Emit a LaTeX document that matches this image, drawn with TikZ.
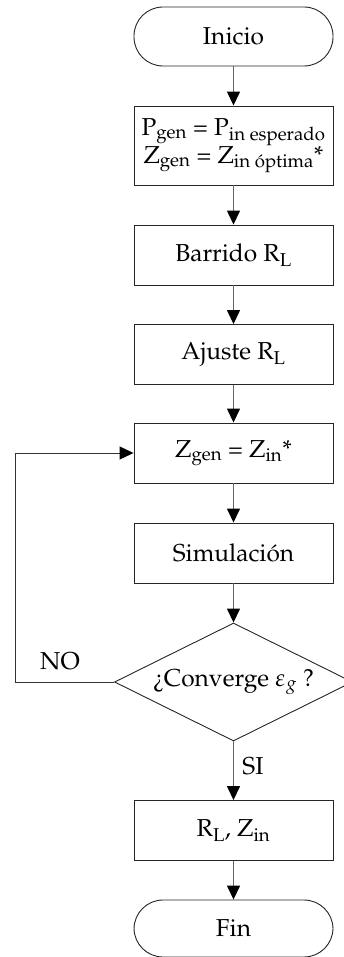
\documentclass[tikz,border=0pt]{standalone}
\usepackage[T1]{fontenc}
\usepackage{mathpazo}
\usetikzlibrary{arrows.meta,shapes.geometric}
\begin{document}
\begin{tikzpicture}[x=1pt,y=-1pt,
  txt/.style={font=\fontsize{24.5}{28}\selectfont},
  box/.style={txt,draw=black!85,line width=0.9pt,minimum width=199pt,minimum height=60pt,inner sep=0pt,align=center},
  term/.style={box,rounded corners=29pt,minimum height=59pt},
  dec/.style={txt,draw=black!85,line width=0.9pt,diamond,aspect=2,minimum width=238pt,minimum height=118pt,inner sep=0pt},
  flow/.style={draw=black!60,line width=1.4pt,-{Triangle[length=14pt,width=13pt,color=black]}},
  back/.style={draw=black!80,line width=0.9pt,-{Triangle[length=14pt,width=13pt,color=black]}}
]
\useasboundingbox (0,0) rectangle (344,957);
\node[term] (ini) at (233.5,36.5) {Inicio};
\node[box,minimum height=79pt] (b1) at (233.5,145.5) {P\textsubscript{gen} = P\textsubscript{in esperado}\\Z\textsubscript{gen} = Z\textsubscript{in \'optima}*};
\node[box] (barr) at (233.5,255) {Barrido R\textsubscript{L}};
\node[box] (aj) at (233.5,354.5) {Ajuste R\textsubscript{L}};
\node[box] (zg) at (233.5,453) {Z\textsubscript{gen} = Z\textsubscript{in}*};
\node[box] (sim) at (233.5,553) {Simulaci\'on};
\node[dec] (dec) at (233.5,682) {?`Converge $\varepsilon_g$ ?};
\node[box] (res) at (233.5,830.5) {R\textsubscript{L}, Z\textsubscript{in}};
\node[term,minimum height=57pt] (fin) at (233.5,928.5) {Fin};
\coordinate (fb) at (15,682);
\draw[flow] (ini) -- (b1);
\draw[flow] (b1) -- (barr);
\draw[flow] (barr) -- (aj);
\draw[flow] (aj) -- (zg);
\draw[flow] (zg) -- (sim);
\draw[flow] (sim) -- (dec);
\draw[flow] (dec) -- (res);
\draw[flow] (res) -- (fin);
\draw[back] (dec.west) -- (fb) |- (zg.west);
\node[txt] (no) at (60,661) {NO};
\node[txt] (si) at (253,766) {SI};
\end{tikzpicture}
\end{document}
